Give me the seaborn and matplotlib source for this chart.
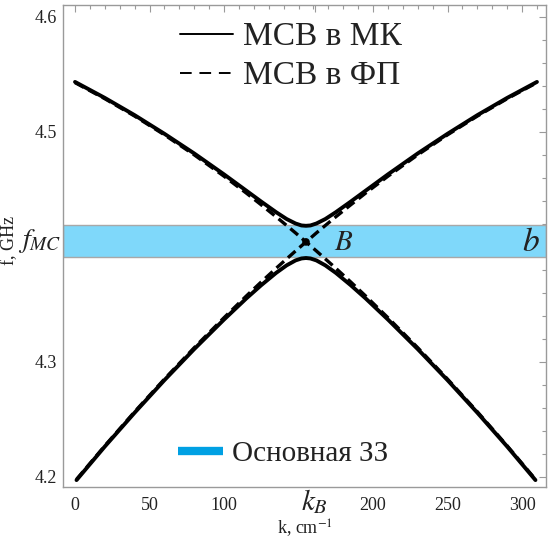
import matplotlib
matplotlib.use("Agg")
import matplotlib.pyplot as plt
import matplotlib.transforms as mtransforms
import seaborn as sns
from matplotlib.lines import Line2D
from matplotlib.ticker import MultipleLocator

# ---------------- data ----------------
# coupled modes (solid): МСВ в МК
k_up = [0, 20, 40, 60, 80, 100, 115, 125, 135, 142, 148, 152, 155,
        158, 162, 168, 175, 185, 195, 210, 230, 250, 270, 290, 310]
f_up = [4.5435, 4.5296, 4.5146, 4.4984, 4.4813, 4.4631, 4.4489, 4.4394, 4.4302,
        4.4243, 4.4204, 4.4187, 4.4184, 4.4187, 4.4204, 4.4243, 4.4302, 4.4394,
        4.4489, 4.4631, 4.4813, 4.4984, 4.5146, 4.5296, 4.5435]

k_low = [1, 20, 40, 60, 80, 100, 115, 125, 135, 142, 148, 152, 155,
         158, 162, 168, 175, 185, 195, 210, 230, 250, 270, 290, 309]
f_low = [4.1973, 4.2265, 4.2559, 4.2842, 4.3112, 4.3369, 4.3553, 4.3668, 4.3775,
         4.3840, 4.3883, 4.3900, 4.3904, 4.3900, 4.3883, 4.3840, 4.3775, 4.3668,
         4.3553, 4.3369, 4.3112, 4.2842, 4.2559, 4.2265, 4.1973]

# uncoupled modes (dashed): МСВ в ФП
k_fp1 = [0, 20, 40, 60, 80, 100, 115, 125, 135, 142, 148, 152, 155,
         158, 162, 168, 175, 185, 195, 210, 230, 250, 270, 290, 309]
f_fp1 = [4.5429, 4.5289, 4.5138, 4.4975, 4.4801, 4.4615, 4.4468, 4.4366, 4.4262,
         4.4187, 4.4122, 4.4077, 4.4044, 4.4010, 4.3965, 4.3896, 4.3815, 4.3696,
         4.3574, 4.3385, 4.3124, 4.2851, 4.2567, 4.2271, 4.1979]

k_fp2 = [1, 20, 40, 60, 80, 100, 115, 125, 135, 142, 148, 152, 155,
         158, 162, 168, 175, 185, 195, 210, 230, 250, 270, 290, 310]
f_fp2 = [4.1979, 4.2271, 4.2567, 4.2851, 4.3124, 4.3385, 4.3574, 4.3696, 4.3815,
         4.3896, 4.3965, 4.4010, 4.4044, 4.4077, 4.4122, 4.4187, 4.4262, 4.4366,
         4.4468, 4.4615, 4.4801, 4.4975, 4.5138, 4.5289, 4.5429]

cross_k = [155]
cross_f = [4.4044]

band_low, band_high = 4.391, 4.419
f_mc = 4.405
k_b = 161

y_major = [4.2, 4.3, 4.5, 4.6]
x_major = [0, 50, 100, 200, 250, 300]

legend_labels = ["МСВ в МК", "МСВ в ФП"]
band_label = "Основная ЗЗ"

# ---------------- style ----------------
sns.set_theme(style="white")
plt.rcParams["font.family"] = ["Liberation Serif", "DejaVu Serif"]
plt.rcParams["mathtext.fontset"] = "stix"

fig = plt.figure(figsize=(5.48, 5.47), dpi=100)
ax = fig.add_axes([0.115, 0.1097, 0.8814, 0.8812])

band_color = "#7fd8fa"
ax.axhspan(band_low, band_high, facecolor=band_color, edgecolor="#a8a8a8",
           lw=1.0, zorder=1)

sns.lineplot(x=k_fp1, y=f_fp1, color="black", lw=2.4, ax=ax, zorder=3)
sns.lineplot(x=k_fp2, y=f_fp2, color="black", lw=2.4, ax=ax, zorder=3)
for ln in ax.lines[-2:]:
    ln.set_dashes([3.0, 1.6])
sns.lineplot(x=k_up, y=f_up, color="black", lw=2.8, ax=ax, zorder=4)
sns.lineplot(x=k_low, y=f_low, color="black", lw=2.8, ax=ax, zorder=4)
for ln in ax.lines:
    ln.set_solid_capstyle("round")
    ln.set_solid_joinstyle("round")
sns.scatterplot(x=cross_k, y=cross_f, color="black", s=30, ax=ax, zorder=5,
                edgecolor="none")

ax.set_xlim(-8.05, 316.1)
ax.set_ylim(4.1913, 4.6104)

# ticks
ax.set_yticks(y_major[:2] + [f_mc] + y_major[2:],
              labels=[f"{v:.1f}" for v in y_major[:2]] + [""] +
                     [f"{v:.1f}" for v in y_major[2:]])
ax.set_xticks(x_major[:3] + [k_b] + x_major[3:],
              labels=[str(v) for v in x_major[:3]] + [""] +
                     [str(v) for v in x_major[3:]])
ax.yaxis.set_minor_locator(MultipleLocator(0.02))
ax.xaxis.set_minor_locator(MultipleLocator(10))
ax.tick_params(which="both", direction="in", top=True, right=True,
               color="#9a9a9a", width=0.8, labelcolor="#222222")
ax.tick_params(which="major", length=5, labelsize=13, pad=4)
ax.tick_params(which="minor", length=3)
ax.tick_params(axis="x", which="major", pad=7)

# special tick labels f_MC and k_B
blend_x = mtransforms.blended_transform_factory(ax.transData, ax.transAxes)
blend_y = mtransforms.blended_transform_factory(ax.transAxes, ax.transData)
ax.text(k_b, 0.0, "$k_B$", transform=blend_x, fontsize=21, ha="center",
        va="top", color="#222222")
ax.text(-0.004, f_mc, "$f_{MC}$", transform=blend_y, fontsize=20, ha="right",
        va="center", color="#222222")

for sp in ax.spines.values():
    sp.set_color("#9a9a9a")
    sp.set_linewidth(1.0)

ax.set_xlabel("k, cm$^{-1}$", fontsize=13, color="#222222")
ax.set_ylabel("f, GHz", fontsize=13, color="#222222")
ax.xaxis.set_label_coords(0.501, -0.062)
ax.yaxis.set_label_coords(-0.094, 0.512)

ax.text(174, 4.4035, "$B$", fontsize=21, ha="left", va="center", color="#222222", zorder=6)
ax.text(312, 4.4035, "$b$", fontsize=24, ha="right", va="center", color="#222222", zorder=6)

h1 = [Line2D([], [], color="black", lw=1.4),
      Line2D([], [], color="black", lw=1.4, dashes=[6, 4])]
leg1 = ax.legend(h1, legend_labels, loc="upper left", bbox_to_anchor=(0.242, 0.965),
                 frameon=False, fontsize=24, handlelength=1.6, handletextpad=0.3,
                 labelspacing=0.25, borderpad=0, borderaxespad=0)
for t in leg1.get_texts():
    t.set_color("#222222")
ax.add_artist(leg1)

h2 = [Line2D([], [], color="#00a0e3", lw=6, solid_capstyle="butt")]
leg2 = ax.legend(h2, [band_label], loc="center left", bbox_to_anchor=(0.238, 0.069),
                 frameon=False, fontsize=21, handlelength=1.55, handletextpad=0.3,
                 borderpad=0, borderaxespad=0)
for t in leg2.get_texts():
    t.set_color("#222222")

fig.savefig("out.png", dpi=100)
